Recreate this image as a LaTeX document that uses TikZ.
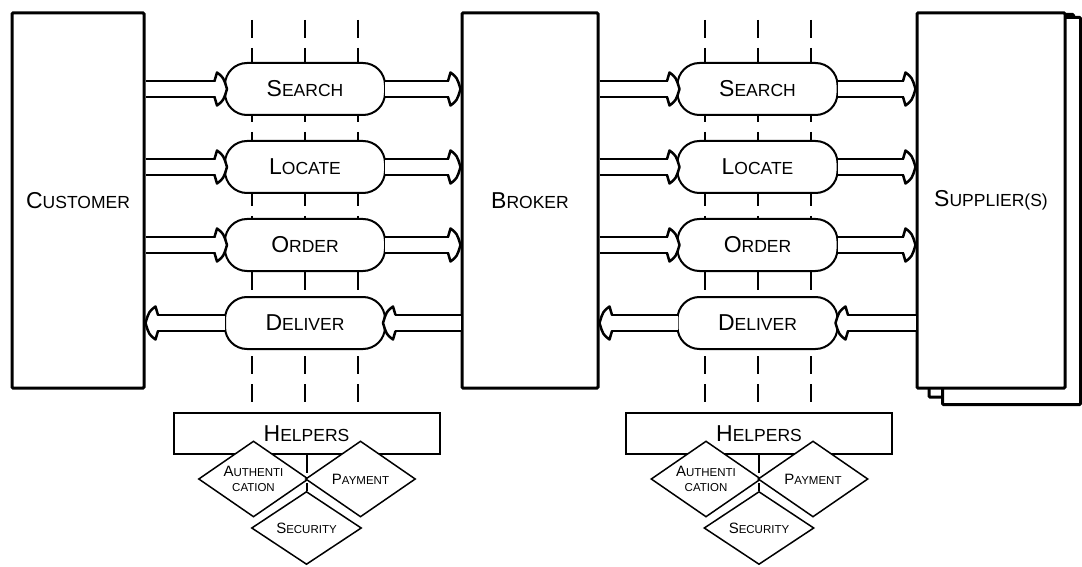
\documentclass[tikz,border=0pt]{standalone}
\usepackage{fontspec}
\setmainfont{Liberation Sans}
\usetikzlibrary{positioning,shapes.geometric,backgrounds,calc}

% first letter in node size, the rest as small capitals
\newcommand{\capsc}[3][17.5]{#2{\fontsize{#1}{#1}\selectfont #3}}

\begin{document}
\begin{tikzpicture}[x=1pt, y=1pt, node distance=26pt,
 party/.style={draw,line width=3pt,rounded corners=1pt,fill=white,minimum height=375pt,font=\fontsize{23}{26}\selectfont},
 capsule/.style={draw,line width=2pt,rounded corners=22pt,fill=white,minimum width=160pt,minimum height=52pt,outer sep=0pt,font=\fontsize{23}{26}\selectfont},
 helperbox/.style={draw,line width=2pt,fill=white,minimum width=266pt,minimum height=41pt,font=\fontsize{23}{26}\selectfont},
 helper/.style={draw,diamond,aspect=1.45,line width=1.5pt,fill=white,inner sep=0pt,minimum width=110pt,minimum height=76pt,align=center,font=\fontsize{15}{15}\selectfont},
 guide/.style={line width=2pt,dash pattern=on 18pt off 10pt},
 flow/.style={double,double distance=13.5pt,line width=2.5pt,shorten >=11.5pt},
 head/.pic={
  \fill[white] (-11.5,8) -- (-10,16.5) .. controls (-3.5,11.5) .. (0,0) .. controls (-3.5,-11.5) .. (-10,-16.5) -- (-11.5,-8) -- cycle;
  \draw[line width=2.5pt,line join=round,shorten >=0pt] (-12.5,8) -- (-10,16.5) .. controls (-3.5,11.5) .. (0,0) .. controls (-3.5,-11.5) .. (-10,-16.5) -- (-12.5,-8);
 }]
\useasboundingbox (0,0) rectangle (1082,566);
\node[party,minimum width=132pt] (customer) at (78,365.5) {\capsc{C}{USTOMER}};
\node[party,minimum width=136pt] (broker) at (530,365.5) {\capsc{B}{ROKER}};
\node[party,minimum width=148pt] (supplier) at (991,365.5) {\capsc{S}{UPPLIER(S)}};
\foreach \s/\x in {L/305,R/757.5}{
 \node[capsule] (search\s) at (\x,477) {\capsc{S}{EARCH}};
 \node[capsule,below=of search\s] (locate\s) {\capsc{L}{OCATE}};
 \node[capsule,below=of locate\s] (order\s) {\capsc{O}{RDER}};
 \node[capsule,below=of order\s] (deliver\s) {\capsc{D}{ELIVER}};
 \node[helperbox] (help\s) at (\x+1.5,132.5) {\capsc{H}{ELPERS}};
 \node[helper] (auth\s) at ($(help\s)+(-53,-45.5)$) {\capsc[11.5]{A}{UTHENTI}\\\capsc[11.5]{}{CATION}};
 \node[helper] (pay\s) at ($(help\s)+(54,-45.5)$) {\capsc[11.5]{P}{AYMENT}};
 \node[helper,minimum height=73pt] (sec\s) at ($(help\s)+(0,-94.5)$) {\capsc[11.5]{S}{ECURITY}};
}
\foreach \c in {search,locate,order}{
 \draw[flow] (\c L.west -| customer.east) -- ([xshift=2pt]\c L.west) pic{head};
 \draw[flow] (\c L.east) -- (\c L.east -| broker.west) pic{head};
 \draw[flow] (\c R.west -| broker.east) -- ([xshift=2pt]\c R.west) pic{head};
 \draw[flow] (\c R.east) -- (\c R.east -| supplier.west) pic{head};
}
\foreach \s/\a/\b in {L/customer/broker,R/broker/supplier}{
 \draw[flow] (deliver\s.west) -- (deliver\s.west -| \a.east) pic[rotate=180]{head};
 \draw[flow] (deliver\s.east -| \b.west) -- ([xshift=-2pt]deliver\s.east) pic[rotate=180]{head};
}
\begin{scope}[on background layer]
 \foreach \k in {1,2}
  \draw[line width=3pt,rounded corners=1pt,fill=white] ([shift={(13.5*\k,-7.5*\k)}]supplier.south west) rectangle ([shift={(7*\k,-3*\k)}]supplier.north east);
 \foreach \s in {L,R}{
  \foreach \dx in {-53,0,53}
   \draw[guide] ([xshift=\dx pt,yshift=43pt]search\s.north) -- ([xshift=\dx pt]search\s.north |- help\s.north);
  \draw[guide] (help\s.south) -- (sec\s.north);
 }
\end{scope}
\end{tikzpicture}
\end{document}
